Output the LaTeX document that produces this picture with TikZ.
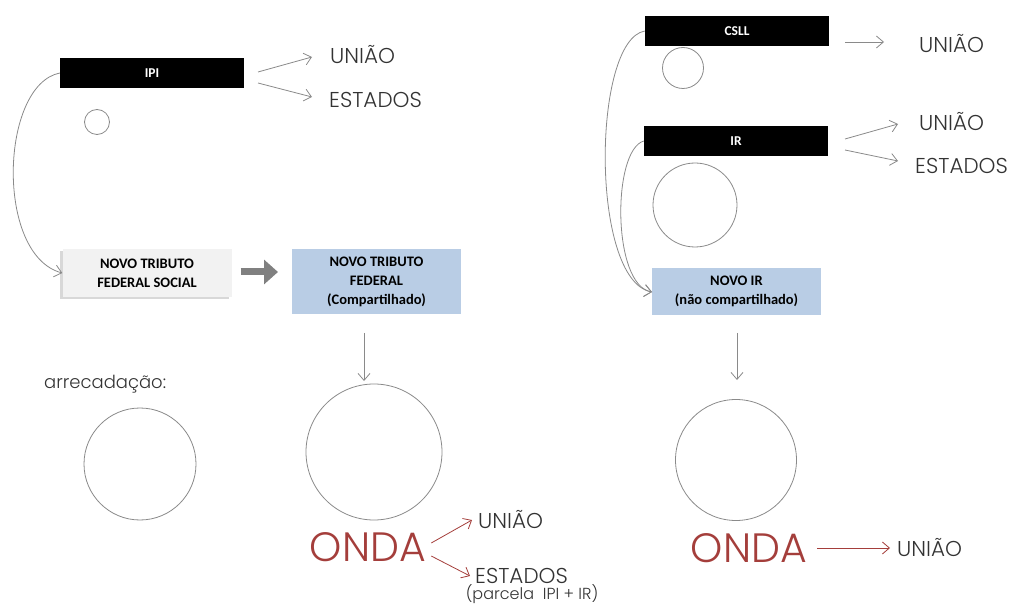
\documentclass[tikz,border=0pt]{standalone}
\usepackage{fontspec}
\newfontfamily\lightfont{Poppins Light}
\newfontfamily\boxfont{Carlito}
\usetikzlibrary{arrows.meta,shadows}
\definecolor{boxblue}{HTML}{B9CDE5}
\definecolor{boxgray}{HTML}{F2F2F2}
\definecolor{linegray}{HTML}{8A8A8A}
\definecolor{txtgray}{HTML}{333333}
\definecolor{ondared}{HTML}{A43E3B}
\tikzset{
  blackbox/.style={fill=black, text=white, font=\boxfont\bfseries\fontsize{13.5}{15}\selectfont, minimum width=184pt, minimum height=30pt, inner sep=0pt},
  bluebox/.style={fill=boxblue, text=black, font=\boxfont\bfseries\fontsize{14.5}{19}\selectfont, align=center, inner sep=0pt},
  lbl/.style={font=\lightfont\fontsize{21.5}{24}\selectfont, text=txtgray, inner sep=0pt, anchor=west},
  onda/.style={font=\lightfont\fontsize{41}{44}\selectfont, text=ondared, inner sep=0pt},
  circ/.style={draw=linegray, line width=0.8pt, circle, inner sep=0pt},
  thinarr/.style={draw=linegray, line width=0.8pt, -{Straight Barb[length=7pt,width=12pt]}},
  redarr/.style={draw=ondared, line width=0.8pt, -{Straight Barb[length=7pt,width=12pt]}},
}
\begin{document}
\begin{tikzpicture}[x=1pt,y=-1pt]
\useasboundingbox (0,0) rectangle (1013,604);

% ---------- left part ----------
\node[blackbox] (ipi) at (152,73) {IPI};
\node[circ, minimum size=25pt] (cipi) at (97,122) {};
\node[lbl] (uniao1) at (330,55) {UNIÃO};
\node[lbl] (estados1) at (329,100) {ESTADOS};
\coordinate (ipiA) at (258,72);
\coordinate (ipiB) at (258,83);
\draw[thinarr] (ipiA) -- (312,57);
\draw[thinarr] (ipiB) -- (312,97);

\node[fill=boxgray, drop shadow={shadow xshift=-2.5pt, shadow yshift=-2.5pt, fill=black!30}, minimum width=169pt, minimum height=48pt, inner sep=0pt, font=\boxfont\bfseries\fontsize{14.5}{19}\selectfont, align=center] (nts) at (147,273) {NOVO TRIBUTO\\FEDERAL SOCIAL};
\draw[thinarr] (ipi.west) .. controls (0,85) and (-5,255) .. (nts.west);

\node[bluebox, minimum width=169pt, minimum height=65pt] (ntf) at (376.5,281.5) {NOVO TRIBUTO\\FEDERAL\\(Compartilhado)};
\draw[draw=gray, line width=7pt, -{Triangle[length=14pt,width=24pt]}] (nts.east)+(9,-1) -- (278,272);

\node[circ, minimum size=136pt] (cntf) at (374,452) {};
\coordinate (ntfA) at (364,333);
\draw[thinarr] (ntfA) -- (364,381);

\node[lbl, font=\lightfont\fontsize{18}{21}\selectfont, anchor=west] (arrec) at (44,384) {arrecadação:};
\node[circ, minimum size=112pt] (carr) at (140,464) {};

\node[onda] (onda1) at (368,547) {ONDA};
\node[lbl] (uniao2) at (478,520) {UNIÃO};
\node[lbl] (estados2) at (475,576) {ESTADOS};
\node[font=\lightfont\fontsize{16}{18}\selectfont, text=txtgray, inner sep=0pt] (parcela) at (532,594) {(parcela\ \ IPI + IR)};
\draw[redarr] (onda1.east)+(5,-4) -- (472,520);
\draw[redarr] (onda1.east)+(5,9) -- (470,576);

% ---------- right part ----------
\node[blackbox] (csll) at (737,31) {CSLL};
\node[circ, minimum size=41pt] (ccsll) at (683,68) {};
\node[lbl] (uniao3) at (919,44) {UNIÃO};
\coordinate (csllA) at (845,42);
\draw[thinarr] (csllA) -- (884,42);

\node[blackbox] (ir) at (736,141) {IR};
\node[circ, minimum size=84pt] (cir) at (695,205) {};
\node[lbl] (uniao4) at (919,122) {UNIÃO};
\node[lbl] (estados3) at (915,166) {ESTADOS};
\coordinate (irA) at (845,139);
\coordinate (irB) at (845,150);
\draw[thinarr] (irA) -- (898,124);
\draw[thinarr] (irB) -- (898,161);

\node[bluebox, minimum width=169pt, minimum height=47pt] (novoir) at (736.5,291.5) {NOVO IR\\(não compartilhado)};
\coordinate (nirin) at (652,292);
\draw[thinarr] (csll.west) .. controls (592,40) and (590,280) .. (nirin);
\draw[thinarr] (ir.west) .. controls (612,150) and (612,285) .. (nirin);

\coordinate (nirA) at (737,333);
\draw[thinarr] (nirA) -- (737,380);
\node[circ, minimum size=121pt] (cnir) at (736,460) {};

\node[onda] (onda2) at (749,548) {ONDA};
\node[lbl] (uniao5) at (897,548) {UNIÃO};
\draw[redarr] (onda2.east)+(10,0) -- (890,548);
\end{tikzpicture}
\end{document}
